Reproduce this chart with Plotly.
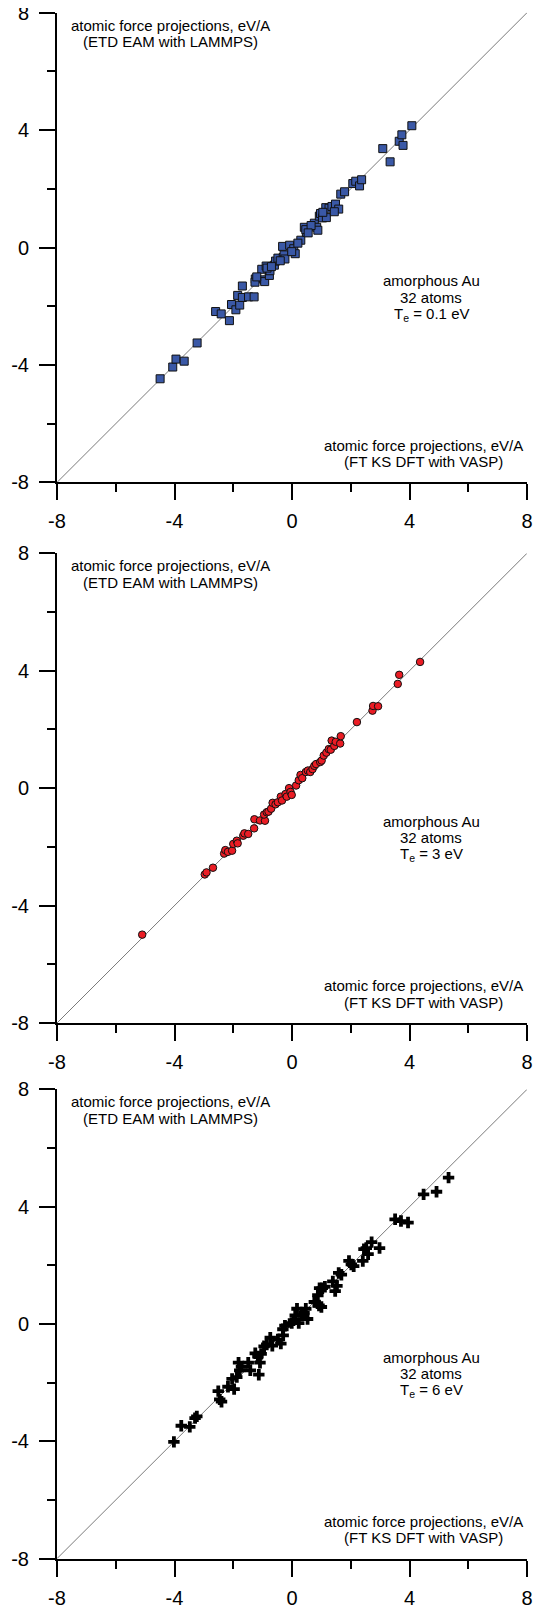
import plotly.graph_objects as go

# ---- data ----
diag = [-8, 8]

x1 = [-4.49, -4.06, -3.95, -3.67, -3.23, -2.60, -2.41, -2.13, -2.06, -1.91, -1.78, -1.85,
      -1.69, -1.69, -1.48, -1.29, -1.25, -1.26, -0.95, -0.93, -1.03, -0.88, -0.77, -0.75,
      -0.60, -0.56, -0.48, -0.30, -0.27, -0.32, -0.24, -0.08, 0.06, 0.11, -0.01, 0.30,
      0.42, 0.49, 0.47, 0.76, 0.84, 0.88, 0.93, 0.97, 1.04, 1.17, 1.15, 1.26, 1.36, 1.48,
      1.59, 1.44, 1.66, 1.79, 2.07, 2.17, 2.30, 2.37, 3.09, 3.34, 3.65, 3.74, 3.78, 4.08,
      -1.20, -0.85, -0.40, 0.20, 0.65, 1.05, -0.70, 0.55]
y1 = [-4.47, -4.07, -3.80, -3.87, -3.25, -2.18, -2.26, -2.49, -1.94, -2.12, -1.96, -1.63,
      -1.31, -1.70, -1.68, -1.68, -1.07, -1.18, -1.10, -1.16, -0.74, -0.63, -0.95, -0.79,
      -0.60, -0.46, -0.36, -0.34, -0.25, 0.04, -0.39, 0.08, -0.04, -0.21, -0.14, 0.25,
      0.69, 0.52, 0.61, 0.83, 0.69, 0.59, 1.07, 1.16, 1.01, 1.02, 1.36, 1.34, 1.40, 1.48,
      1.31, 1.22, 1.82, 1.90, 2.18, 2.26, 2.10, 2.31, 3.37, 2.92, 3.62, 3.84, 3.48, 4.15,
      -1.00, -0.70, -0.45, 0.15, 0.75, 1.20, -0.65, 0.50]

x2 = [-5.10, -2.97, -2.91, -2.69, -2.31, -2.27, -2.18, -2.04, -2.00, -1.88, -1.85, -1.66,
      -1.62, -1.49, -1.29, -1.28, -1.09, -0.92, -0.95, -0.86, -0.80, -0.71, -0.66, -0.56,
      -0.48, -0.38, -0.34, -0.22, -0.18, -0.10, -0.05, -0.01, 0.14, 0.23, 0.29, 0.35,
      0.47, 0.54, 0.62, 0.70, 0.76, 0.82, 0.96, 1.01, 1.08, 1.17, 1.25, 1.32, 1.35, 1.44,
      1.49, 1.64, 1.66, 2.21, 2.74, 2.76, 2.93, 3.60, 3.65, 4.36]
y2 = [-4.99, -2.94, -2.87, -2.71, -2.23, -2.11, -2.17, -2.13, -1.90, -1.79, -1.88, -1.62,
      -1.54, -1.56, -1.37, -1.06, -1.10, -1.11, -0.90, -0.82, -0.80, -0.70, -0.50, -0.55,
      -0.48, -0.29, -0.42, -0.20, -0.29, 0.00, -0.13, -0.23, 0.09, 0.27, 0.45, 0.34,
      0.55, 0.60, 0.55, 0.65, 0.76, 0.82, 0.89, 0.94, 1.11, 1.21, 1.33, 1.31, 1.62, 1.44,
      1.58, 1.52, 1.77, 2.25, 2.64, 2.80, 2.79, 3.55, 3.86, 4.30]

x3 = [-4.02, -3.77, -3.48, -3.30, -3.24, -2.51, -2.46, -2.40, -2.18, -2.04, -1.97, -1.88,
      -1.82, -1.78, -1.72, -1.49, -1.42, -1.25, -1.16, -1.13, -1.09, -1.05, -0.95, -0.86,
      -0.74, -0.67, -0.48, -0.38, -0.31, -0.30, -0.24, -0.01, 0.05, 0.11, 0.17, 0.23,
      0.32, 0.41, 0.47, 0.53, 0.76, 0.88, 0.94, 0.92, 1.00, 1.03, 1.12, 1.39, 1.47, 1.53,
      1.59, 1.68, 1.94, 2.02, 2.10, 2.41, 2.45, 2.53, 2.59, 2.71, 2.98, 3.51, 3.71, 3.95,
      4.48, 4.92, 5.33]
y3 = [-4.02, -3.47, -3.51, -3.21, -3.15, -2.29, -2.57, -2.65, -2.14, -1.87, -2.22, -1.81,
      -1.32, -1.58, -1.46, -1.32, -1.58, -1.00, -1.11, -1.73, -1.32, -1.02, -0.76, -0.70,
      -0.47, -0.74, -0.53, -0.67, -0.18, -0.39, -0.06, 0.03, 0.13, 0.29, 0.52, 0.03,
      0.29, 0.38, 0.52, 0.17, 0.75, 0.98, 1.22, 0.63, 0.58, 1.22, 1.27, 1.45, 1.12, 1.30,
      1.74, 1.68, 2.15, 2.03, 1.97, 2.15, 2.55, 2.59, 2.38, 2.79, 2.59, 3.57, 3.51, 3.46,
      4.42, 4.51, 4.99]

tick_vals = [-8, -4, 0, 4, 8]
tick_text = ["-8", "-4", "0", "4", "8"]
minor_vals = [-6, -2, 2, 6]
temps = ["0.1", "3", "6"]

top_lines = ["atomic force projections, eV/A", "(ETD EAM with LAMMPS)"]
bot_lines = ["atomic force projections, eV/A", "(FT KS DFT with VASP)"]

FONT = "Liberation Sans, Arial, sans-serif"
# the page body adds an 8px margin around the figure; the figure is sized to fill the rest
domains = [[0.70294, 0.99706], [0.36443, 0.65855], [0.02906, 0.32286]]

series = [
    (x1, y1, dict(symbol="square", size=8, color="#3a58a6", line=dict(color="#111111", width=1))),
    (x2, y2, dict(symbol="circle", size=7.5, color="#ea1c24", line=dict(color="#111111", width=1))),
    (x3, y3, dict(symbol="cross", size=9.5, color="#000000", line=dict(width=0))),
]

fig = go.Figure()
annotations = []
tf = dict(family=FONT, size=15, color="black")


def ann(xa, ya, x, y, text):
    return dict(xref=xa, yref=ya, x=x, y=y, text=text, showarrow=False, font=tf,
                align="center", xanchor="center", yanchor="middle")


for i, (xs, ys, mk) in enumerate(series):
    sfx = "" if i == 0 else str(i + 1)
    xa, ya = "x" + sfx, "y" + sfx
    fig.add_trace(go.Scatter(x=diag, y=diag, mode="lines", xaxis=xa, yaxis=ya,
                             line=dict(color="#7a7a7a", width=1), hoverinfo="skip"))
    fig.add_trace(go.Scatter(x=xs, y=ys, mode="markers", xaxis=xa, yaxis=ya, marker=mk))
    axcommon = dict(range=[-8, 8], tickmode="array", tickvals=tick_vals, ticktext=tick_text,
                    ticks="outside", ticklen=16, tickwidth=2, tickcolor="black",
                    showline=True, linewidth=2, linecolor="black", showgrid=False,
                    zeroline=False, tickfont=dict(family=FONT, size=20, color="black"),
                    minor=dict(tickvals=minor_vals, ticks="outside", ticklen=8,
                               tickwidth=2, tickcolor="black", showgrid=False),
                    ticklabeloverflow="allow",
                    fixedrange=True, automargin=False)
    fig.layout["xaxis" + sfx] = dict(axcommon, anchor=ya, domain=[0, 1], ticklabelstandoff=4)
    fig.layout["yaxis" + sfx] = dict(axcommon, anchor=xa, domain=domains[i], ticklabelstandoff=6)
    annotations += [
        ann(xa, ya, -4.15, 7.578, top_lines[0]),
        ann(xa, ya, -4.15, 7.003, top_lines[1]),
        ann(xa, ya, 4.74, -1.126, "amorphous Au"),
        ann(xa, ya, 4.74, -1.689, "32 atoms"),
        ann(xa, ya, 4.74, -2.264, "T<sub>e</sub> = %s eV" % temps[i]),
        ann(xa, ya, 4.49, -6.733, bot_lines[0]),
        ann(xa, ya, 4.49, -7.296, bot_lines[1]),
    ]

fig.update_layout(width=536, height=1597, margin=dict(l=49, r=17, t=0, b=0),
                  paper_bgcolor="white", plot_bgcolor="white", showlegend=False,
                  annotations=annotations, font=dict(family=FONT))
fig.write_html("out.html")
